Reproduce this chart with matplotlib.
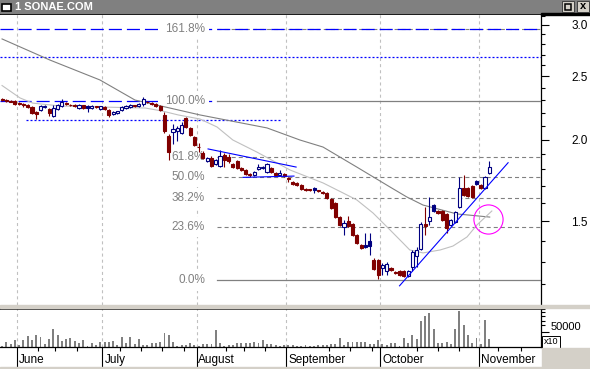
import numpy as np
import matplotlib
matplotlib.use('Agg')
import matplotlib.pyplot as plt
import matplotlib.transforms as mtransforms
from matplotlib.patches import Rectangle
from matplotlib.ticker import FixedLocator, FixedFormatter, NullFormatter

plt.rcParams['font.family'] = ['Liberation Sans', 'DejaVu Sans']
plt.rcParams['lines.scale_dashes'] = False

TITLE = '1 SONAE.COM'

# daily bars (oldest first)
opens = [
    2.308, 2.300, 2.296, 2.292, 2.276, 2.268, 2.260, 2.244, 2.205, 2.221,
    2.244, 2.228, 2.174, 2.228, 2.252, 2.276, 2.260, 2.260, 2.236, 2.256,
    2.252, 2.236, 2.244, 2.228, 2.244, 2.221, 2.189, 2.197, 2.221, 2.236,
    2.244, 2.256, 2.252, 2.268, 2.284, 2.276, 2.268, 2.252, 2.182, 2.026,
    2.055, 2.062, 2.047, 2.159, 2.084, 2.019, 1.948, 1.907, 1.854, 1.874,
    1.834, 1.821, 1.894, 1.880, 1.834, 1.854, 1.808, 1.796, 1.768, 1.765,
    1.802, 1.812, 1.783, 1.808, 1.777, 1.765, 1.771, 1.746, 1.722, 1.716,
    1.703, 1.680, 1.677, 1.686, 1.671, 1.662, 1.656, 1.622, 1.599, 1.521,
    1.468, 1.500, 1.484, 1.428, 1.378, 1.378, 1.398, 1.307, 1.307, 1.270,
    1.257, 1.270, 1.253, 1.257, 1.257, 1.235, 1.275, 1.325, 1.359, 1.484,
    1.500, 1.587, 1.554, 1.554, 1.537, 1.479, 1.495, 1.576, 1.686, 1.686,
    1.697, 1.728, 1.703, 1.686, 1.777]
highs = [
    2.317, 2.308, 2.300, 2.300, 2.280, 2.276, 2.268, 2.252, 2.213, 2.260,
    2.256, 2.236, 2.260, 2.268, 2.308, 2.284, 2.268, 2.264, 2.268, 2.260,
    2.260, 2.256, 2.252, 2.252, 2.248, 2.228, 2.213, 2.213, 2.252, 2.260,
    2.268, 2.260, 2.276, 2.325, 2.292, 2.284, 2.276, 2.260, 2.205, 2.040,
    2.113, 2.098, 2.128, 2.166, 2.091, 2.026, 1.976, 1.921, 1.880, 1.887,
    1.867, 1.928, 1.907, 1.900, 1.841, 1.861, 1.815, 1.802, 1.777, 1.789,
    1.834, 1.821, 1.841, 1.815, 1.783, 1.796, 1.777, 1.752, 1.728, 1.722,
    1.709, 1.686, 1.680, 1.691, 1.674, 1.668, 1.662, 1.627, 1.605, 1.526,
    1.505, 1.526, 1.489, 1.433, 1.383, 1.438, 1.438, 1.316, 1.311, 1.293,
    1.298, 1.275, 1.257, 1.262, 1.262, 1.262, 1.354, 1.368, 1.495, 1.576,
    1.633, 1.593, 1.559, 1.559, 1.543, 1.511, 1.554, 1.753, 1.765, 1.691,
    1.703, 1.734, 1.709, 1.759, 1.854]
lows = [
    2.292, 2.284, 2.280, 2.260, 2.260, 2.244, 2.236, 2.189, 2.151, 2.213,
    2.236, 2.174, 2.166, 2.221, 2.244, 2.260, 2.252, 2.244, 2.228, 2.228,
    2.205, 2.232, 2.236, 2.221, 2.221, 2.166, 2.182, 2.193, 2.213, 2.228,
    2.240, 2.244, 2.244, 2.252, 2.272, 2.260, 2.244, 2.213, 2.047, 1.861,
    1.969, 1.990, 2.040, 2.084, 2.026, 1.955, 1.914, 1.867, 1.847, 1.815,
    1.828, 1.815, 1.815, 1.841, 1.808, 1.802, 1.789, 1.765, 1.752, 1.759,
    1.796, 1.802, 1.777, 1.777, 1.759, 1.759, 1.752, 1.722, 1.703, 1.697,
    1.674, 1.668, 1.665, 1.656, 1.662, 1.650, 1.622, 1.564, 1.516, 1.473,
    1.428, 1.468, 1.423, 1.383, 1.359, 1.364, 1.330, 1.262, 1.222, 1.239,
    1.239, 1.257, 1.244, 1.235, 1.231, 1.231, 1.257, 1.275, 1.354, 1.428,
    1.479, 1.548, 1.537, 1.500, 1.438, 1.473, 1.489, 1.570, 1.638, 1.633,
    1.627, 1.703, 1.680, 1.680, 1.771]
closes = [
    2.300, 2.292, 2.288, 2.268, 2.264, 2.260, 2.244, 2.197, 2.193, 2.252,
    2.252, 2.197, 2.236, 2.260, 2.284, 2.268, 2.262, 2.252, 2.260, 2.236,
    2.236, 2.252, 2.248, 2.250, 2.228, 2.182, 2.205, 2.213, 2.244, 2.252,
    2.260, 2.248, 2.268, 2.308, 2.280, 2.268, 2.252, 2.221, 2.062, 1.914,
    2.076, 2.080, 2.106, 2.091, 2.033, 1.962, 1.945, 1.874, 1.874, 1.821,
    1.861, 1.887, 1.861, 1.854, 1.815, 1.812, 1.796, 1.771, 1.762, 1.783,
    1.815, 1.815, 1.834, 1.783, 1.765, 1.777, 1.759, 1.737, 1.709, 1.703,
    1.680, 1.674, 1.671, 1.674, 1.665, 1.656, 1.627, 1.570, 1.521, 1.479,
    1.489, 1.473, 1.428, 1.388, 1.364, 1.369, 1.373, 1.266, 1.239, 1.284,
    1.289, 1.262, 1.248, 1.239, 1.235, 1.257, 1.344, 1.354, 1.484, 1.473,
    1.521, 1.554, 1.543, 1.505, 1.463, 1.505, 1.548, 1.686, 1.644, 1.638,
    1.633, 1.709, 1.686, 1.752, 1.815]
volumes = [
    4200, 15400, 9800, 23900, 5600, 21900, 35000, 21900, 38200, 31700,
    9800, 25200, 57800, 39200, 20600, 25200, 28400, 18600, 12100, 21900,
    4200, 12100, 5600, 15400, 15400, 15400, 18600, 5600, 31700, 12100,
    31700, 8800, 25200, 5600, 5600, 12100, 12100, 15400, 44800, 38200,
    15400, 2300, 5600, 5600, 12100, 5600, 2300, 8800, 8800, 8800,
    54600, 12100, 2300, 5600, 5600, 12100, 12100, 13100, 13100, 15400,
    13100, 23900, 10800, 8800, 7500, 4200, 5600, 5600, 5600, 4200,
    3300, 5600, 4200, 4200, 5600, 7500, 7500, 10800, 10800, 28400,
    5600, 15400, 15400, 15400, 15400, 15400, 8800, 8800, 23900, 8800,
    7500, 12100, 12100, 3300, 28400, 14100, 40200, 27100, 85000, 102300,
    111100, 57800, 14100, 14100, 15400, 10800, 57800, 116700, 71900, 39200,
    14100, 28400, 10800, 89200, 25200]

# trading days per month: tail of May, June .. October, start of November
month_names = ['June', 'July', 'August', 'September', 'October', 'November']
days_per_month = [4, 20, 22, 21, 22, 23, 3]
week_ticks = [8.5, 12.5, 17.5, 27.5, 32.5, 37.5, 42.5, 52.5, 56.5, 61.5,
              76.5, 81.5, 86.5, 97, 102, 107, 116, 121.5]

# moving averages (bar index, value)
ma_long_bars = [0, 11.2, 22.9, 31.1, 46.3, 62, 69.7, 75.1, 83, 90.8, 94.7, 98.5, 106.4, 114.1]
ma_long_vals = [2.854, 2.649, 2.469, 2.300, 2.182, 2.084, 1.997, 1.948, 1.815, 1.691,
                1.633, 1.587, 1.538, 1.521]
ma_short_bars = [0, 4.2, 7.2, 13.6, 22.9, 33.5, 37.4, 41.2, 46.3, 50.3, 54, 59.6, 67.4,
                 75.1, 79.8, 83, 86.8, 90.8, 93.8, 95.4, 98.5, 102.5, 105.5, 108.8, 111.1, 114.6]
ma_short_vals = [2.421, 2.317, 2.275, 2.252, 2.244, 2.236, 2.213, 2.182, 2.151, 2.091,
                 1.997, 1.914, 1.796, 1.716, 1.656, 1.616, 1.543, 1.453, 1.388, 1.354,
                 1.340, 1.354, 1.373, 1.418, 1.479, 1.554]

# Fibonacci retracement
fib_high = 2.292
fib_low = 1.216
fib_pcts = [0.0, 23.6, 38.2, 50.0, 61.8, 100.0, 161.8]

# user drawings
top_dashed_level = 2.957
blue_dotted_level = 2.675
support_bars = [5.6, 65.3]
support_level = 2.143
wedge_top_bars = [48.2, 68.8]
wedge_top_vals = [1.935, 1.815]
wedge_low_bars = [56.4, 68.3]
wedge_low_vals = [1.750, 1.758]
trend_up_bars = [93.0, 118.4]
trend_up_vals = [1.193, 1.843]
circle_bar = 113.7
circle_val = 1.513

NAVY = '#000080'
MAROON = '#800000'
BLUE = '#0000ff'
GRID = '#c0c0c0'
FIBC = '#808080'
PANEL = '#d4d0c8'

W, H = 590, 369
fig = plt.figure(figsize=(W / 100, H / 100), dpi=100, facecolor='white')


def fx(px):
    return px / W


def fy(py):
    return 1 - py / H


ax = fig.add_axes([0, fy(305), fx(541), (305 - 14) / H])
axv = fig.add_axes([0, fy(347), fx(541), (347 - 308) / H], sharex=ax)

xmin, xmax = -0.48, 126.1
n = len(closes)
x = np.arange(n)

# month boundaries
bounds = np.cumsum(days_per_month)[:-1] - 0.5

# price panel
ax.set_yscale('log')
ax.set_ylim(1.1148, 3.117)
ax.set_xlim(xmin, xmax)
for b in bounds:
    ax.axvline(b, color=GRID, lw=0.8, ls=(0, (2.2, 2.2)), zorder=1)
    axv.axvline(b, color=GRID, lw=0.8, ls=(0, (2.2, 2.2)), zorder=1)

# Fibonacci levels and labels
fib_start = 50.3
frac = (fib_start - xmin) / (xmax - xmin)
for pct in fib_pcts:
    lvl = fib_low + pct / 100 * (fib_high - fib_low)
    if pct in (0.0, 100.0):
        ax.axhline(lvl, xmin=frac, color=FIBC, lw=0.9, zorder=3)
    else:
        ax.axhline(lvl, xmin=frac, color=FIBC, lw=0.8, ls=(0, (2.9, 2.2)), zorder=2)
    ax.text(47.5, lvl, f'{pct:.1f}%', ha='right', va='center', color=FIBC,
            fontsize=8.5, zorder=2.8,
            bbox=dict(boxstyle='square,pad=0.35', fc='white', ec='none'))

# blue user lines
ax.axhline(top_dashed_level, color=BLUE, lw=0.9, ls=(0, (9.4, 3.6)), zorder=2.5)
ax.hlines(fib_high, xmin, fib_start, color=BLUE, lw=0.9, ls=(0, (9.4, 3.6)), zorder=2.5)
ax.axhline(blue_dotted_level, color=BLUE, lw=0.9, ls=(0, (1.44, 1.44)), zorder=2.5)
ax.hlines(support_level, support_bars[0], support_bars[1], color=BLUE, lw=0.9,
          ls=(0, (1.44, 1.44)), zorder=2.5)

# moving averages
ax.plot(ma_long_bars, ma_long_vals, color='#808080', lw=0.8, zorder=3)
ax.plot(ma_short_bars, ma_short_vals, color='#c0c0c0', lw=0.8, zorder=3)

# candlesticks
for i in range(n):
    o, h, l, c = opens[i], highs[i], lows[i], closes[i]
    col = NAVY if (i > 0 and c >= closes[i - 1]) else MAROON
    face = 'white' if c > o else col
    ax.vlines(i, l, h, color=col, lw=0.8, zorder=4)
    ax.bar(i, abs(c - o), bottom=min(o, c), width=0.72, color=face,
           edgecolor=col, linewidth=0.8, zorder=5)

# trend lines and marker
ax.plot(wedge_top_bars, wedge_top_vals, color=BLUE, lw=0.8, zorder=6)
ax.plot(wedge_low_bars, wedge_low_vals, color=BLUE, lw=0.8, zorder=6)
ax.plot(trend_up_bars, trend_up_vals, color=BLUE, lw=0.8, zorder=6)
ax.plot(circle_bar, circle_val, marker='o', ms=21, mfc='none', mec='#ff00ff',
        mew=0.8, zorder=7)

ax.yaxis.tick_right()
ax.yaxis.set_major_locator(FixedLocator([1.5, 2.0, 2.5, 3.0]))
ax.yaxis.set_major_formatter(FixedFormatter(['1.5', '2.0', '2.5', '3.0']))
ax.yaxis.set_minor_locator(FixedLocator(np.round(np.arange(1.2, 3.15, 0.1), 1)))
ax.yaxis.set_minor_formatter(NullFormatter())
ax.tick_params(axis='y', which='major', length=5.8, width=0.8, pad=16, labelsize=8.5)
ax.tick_params(axis='y', which='minor', length=2.9, width=0.8)
ax.tick_params(axis='x', which='both', bottom=False, labelbottom=False)
ax.spines['left'].set_visible(False)
ax.spines['bottom'].set_visible(False)
ax.spines['top'].set_linewidth(1.4)
ax.spines['right'].set_linewidth(0.9)

# volume panel
axv.bar(x, volumes, width=0.45, color='#808080', zorder=2)
axv.set_ylim(0, 127450)
axv.set_xlim(xmin, xmax)
axv.yaxis.tick_right()
axv.yaxis.set_major_locator(FixedLocator([50000]))
axv.yaxis.set_major_formatter(FixedFormatter(['50000']))
axv.yaxis.set_minor_locator(FixedLocator([72000, 86000, 101000, 115000, 124000]))
axv.yaxis.set_minor_formatter(NullFormatter())
axv.tick_params(axis='y', which='major', length=5.8, width=0.8, pad=1, labelsize=8)
axv.tick_params(axis='y', which='minor', length=2.9, width=0.8)
for lab in axv.get_yticklabels():
    lab.set_va('bottom')
axv.xaxis.set_major_locator(FixedLocator(bounds))
axv.xaxis.set_major_formatter(NullFormatter())
axv.xaxis.set_minor_locator(FixedLocator(week_ticks))
axv.tick_params(axis='x', which='major', length=14.4, width=0.8)
axv.tick_params(axis='x', which='minor', length=2.9, width=0.8)
axv.spines['left'].set_visible(False)
axv.spines['top'].set_linewidth(1.8)
axv.spines['bottom'].set_linewidth(0.9)
axv.spines['right'].set_linewidth(0.9)
axv.text(1.005, 0.02, 'x10', transform=axv.transAxes, fontsize=6.5, va='bottom',
         ha='left', bbox=dict(boxstyle='square,pad=0.15', fc='white', ec='black', lw=0.7))

trans = mtransforms.blended_transform_factory(axv.transData, axv.transAxes)
for b, name in zip(bounds, month_names):
    axv.text(b + 0.45, -0.33, name, transform=trans, fontsize=8.5, ha='left', va='center')

# window chrome
fig.patches.append(Rectangle((0, fy(13)), 1, 13 / H, transform=fig.transFigure,
                             color='#808080', zorder=0))
fig.patches.append(Rectangle((fx(541), fy(14.7)), fx(49), 1.4 / H, transform=fig.transFigure,
                             color='black', zorder=0))
fig.patches.append(Rectangle((fx(1.5), fy(11)), fx(10), 7.5 / H, transform=fig.transFigure,
                             fc='white', ec='black', lw=1.2, zorder=1))
fig.text(fx(15), fy(6.8), TITLE, color='white', fontweight='bold', fontsize=8,
         va='center', ha='left')
for bx in (562, 577):
    fig.patches.append(Rectangle((fx(bx), fy(12)), fx(11.5), 11 / H,
                                 transform=fig.transFigure, fc=PANEL, ec='#404040',
                                 lw=0.7, zorder=1))
fig.patches.append(Rectangle((fx(564.5), fy(9.5)), fx(6.5), 6 / H, transform=fig.transFigure,
                             fc='none', ec='black', lw=1.1, zorder=2))
fig.text(fx(582.8), fy(6.3), 'x', color='black', fontweight='bold', fontsize=8,
         va='center', ha='center')
fig.patches.append(Rectangle((0, fy(307.5)), 1, 2.5 / H, transform=fig.transFigure,
                             color=PANEL, zorder=0))
fig.patches.append(Rectangle((fx(542), 0), fx(48), 21 / H, transform=fig.transFigure,
                             color=PANEL, zorder=0))
fig.patches.append(Rectangle((0, 0), fx(542), 2 / H, transform=fig.transFigure,
                             color=PANEL, zorder=0))

fig.savefig('out.png', dpi=100, facecolor='white')
